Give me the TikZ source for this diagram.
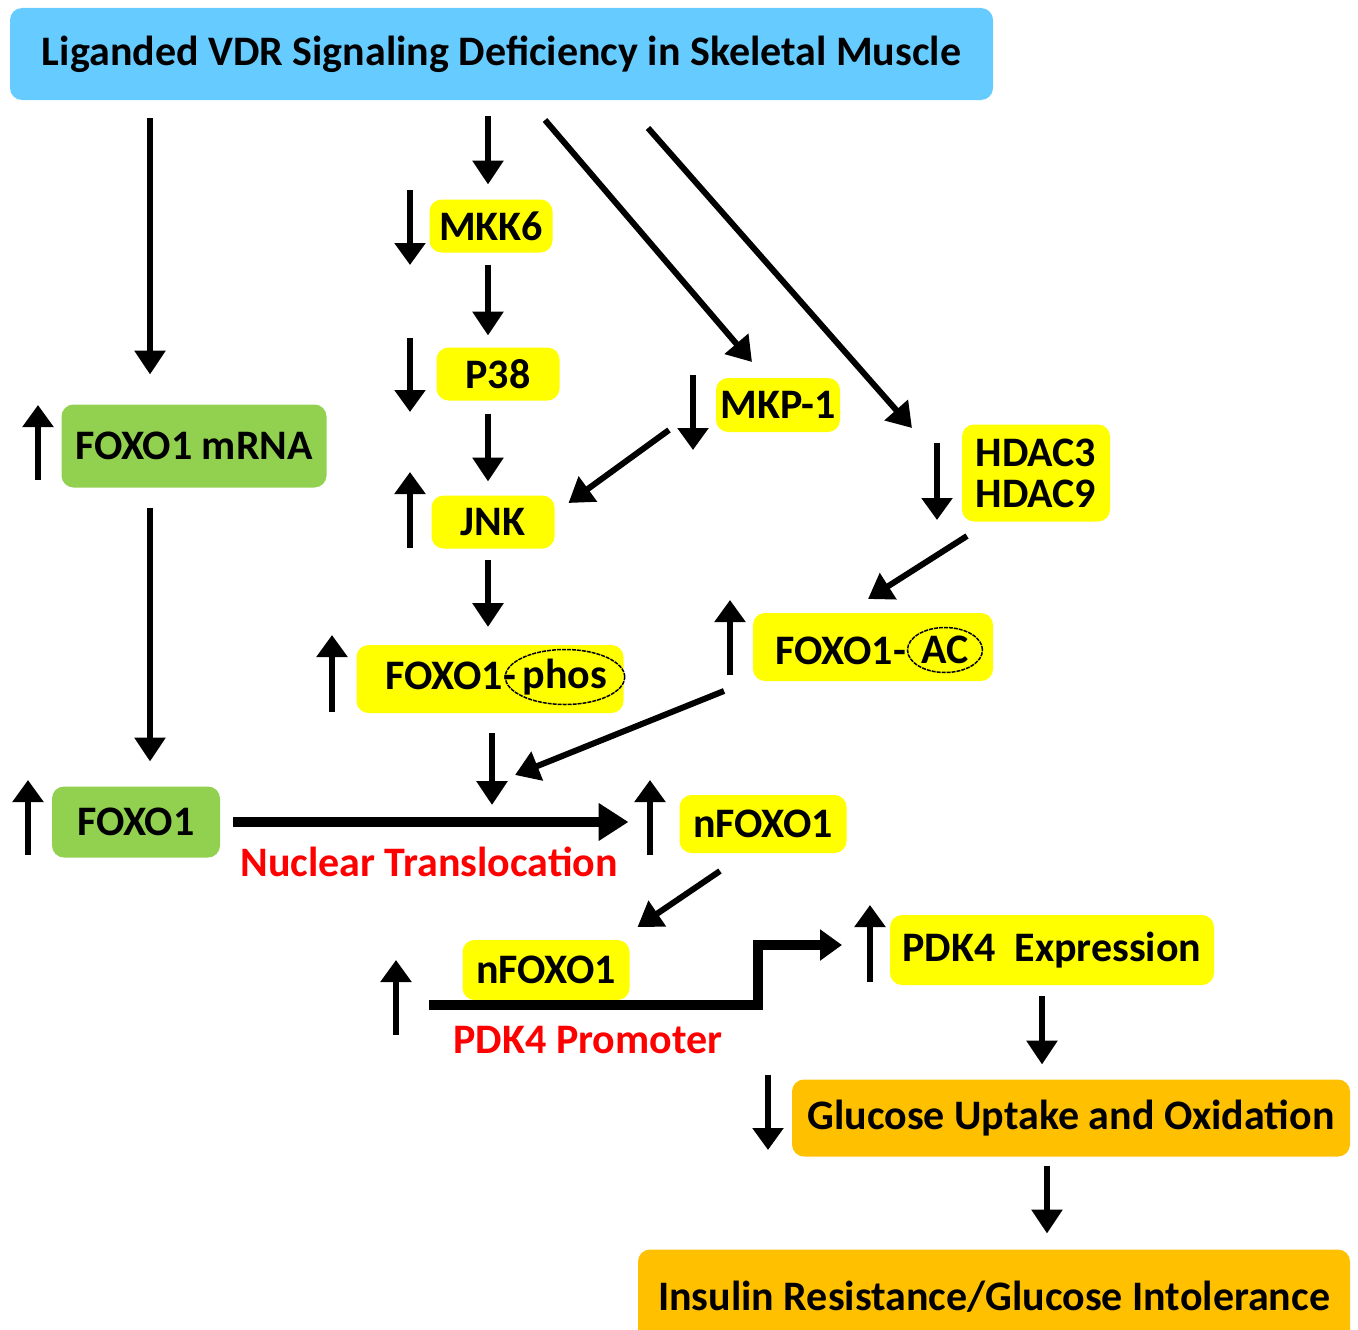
\documentclass[tikz,border=0pt]{standalone}
\usepackage{fontspec}
\setmainfont{Carlito}
\usetikzlibrary{arrows.meta,shapes.geometric}

\definecolor{vdrblue}{HTML}{66CCFF}
\definecolor{vdryellow}{HTML}{FFFF00}
\definecolor{vdrgreen}{HTML}{92D050}
\definecolor{vdrorange}{HTML}{FFC000}
\definecolor{vdrred}{HTML}{FF0000}

\begin{document}
\begin{tikzpicture}[x=1pt,y=-1pt,line width=6pt,>={Triangle[length=24pt,width=30pt]},
  lbl/.style={font=\bfseries\fontsize{42}{41}\selectfont},
  box/.style={lbl,rounded corners=12pt,inner sep=0pt,align=center},
  ybox/.style={box,fill=vdryellow},
  gbox/.style={box,fill=vdrgreen},
  obox/.style={box,fill=vdrorange},
  tbox/.style={box,fill=vdrblue},
  note/.style={lbl,text=vdrred,inner sep=0pt},
  tag/.style={draw,ellipse,line width=1.5pt,dash pattern=on 4pt off 1pt,inner sep=0pt,lbl},
  arr/.style={->},
  ind/.style={->,>={Triangle[length=22pt,width=30pt]}},
  bigarr/.style={->,line width=10pt,>={Triangle[length=30pt,width=36pt]}}]
  \useasboundingbox (0,0) rectangle (1358,1330);
  \clip (0,0) rectangle (1358,1330);

  % boxes
  \node[tbox,minimum width=983pt,minimum height=92pt] (title) at (501.5,54) {Liganded VDR Signaling Deficiency in Skeletal Muscle};
  \node[ybox,minimum width=123pt,minimum height=53pt] (mkk6) at (491,226) {MKK6};
  \node[ybox,minimum width=123pt,minimum height=53pt] (p38) at (498,374) {P38};
  \node[ybox,minimum width=123pt,minimum height=53pt] (jnk) at (493,522) {JNK};
  \node[ybox,minimum width=124pt,minimum height=54pt] (mkp) at (778,405) {MKP-1};
  \node[ybox,minimum width=148pt,minimum height=97pt,align=left] (hdac) at (1036,473) {HDAC3\\HDAC9};
  \node[ybox,minimum width=240pt,minimum height=68pt] (ac) at (873,647) {};
  \node[lbl,anchor=east,inner sep=0pt] (aclbl) at (909,651) {FOXO1-};
  \node[tag,minimum width=75pt,minimum height=45pt] (actag) at (945,650) {AC};
  \node[ybox,minimum width=267pt,minimum height=68pt] (phos) at (490,679) {};
  \node[lbl,anchor=east,inner sep=0pt] (phoslbl) at (519,676) {FOXO1-};
  \node[tag,minimum width=96pt,minimum height=55pt] (phostag) at (565,677) {phos};
  \node[gbox,minimum width=265pt,minimum height=83pt] (mrna) at (194,446) {FOXO1 mRNA};
  \node[gbox,minimum width=168pt,minimum height=71pt] (foxo) at (136,822) {FOXO1};
  \node[ybox,minimum width=167pt,minimum height=58pt] (nf1) at (763,824) {nFOXO1};
  \node[ybox,minimum width=167pt,minimum height=60pt] (nf2) at (546,970) {nFOXO1};
  \node[ybox,minimum width=324pt,minimum height=70pt] (pdk) at (1052,950) {PDK4\hspace{0.45em}Expression};
  \node[obox,minimum width=558pt,minimum height=77pt] (glu) at (1071,1118) {Glucose Uptake and Oxidation};
  \node[obox,minimum width=712pt,minimum height=95pt] (ins) at (994,1297) {Insulin Resistance/Glucose Intolerance};
  \node[note] (transl) at (429,862) {Nuclear Translocation};
  \node[note] (prom) at (588,1040) {PDK4 Promoter};

  \coordinate (colA) at (150,0);
  \coordinate (colB) at (488,0);
  \coordinate (colC) at (1042,0);
  \coordinate (colD) at (1047,0);
  \coordinate (junc) at (492,805);

  % vertical chain
  \draw[arr,shorten <=15pt,shorten >=27pt] (title.south -| colA) -- (mrna.north -| colA);
  \draw[arr,shorten <=17pt,shorten >=22pt] (mrna.south -| colA) -- (foxo.north -| colA);
  \draw[arr,shorten <=13pt,shorten >=12pt] (title.south -| colB) -- (mkk6.north -| colB);
  \draw[arr,shorten <=9pt,shorten >=9pt] (mkk6.south -| colB) -- (p38.north -| colB);
  \draw[arr,shorten <=10pt,shorten >=11pt] (p38.south -| colB) -- (jnk.north -| colB);
  \draw[arr,shorten <=8pt,shorten >=15pt] (jnk.south -| colB) -- (phos.north -| colB);
  \draw[arr,shorten <=17pt] (phos.south -| junc) -- (junc);
  \draw[arr,shorten <=8pt,shorten >=12pt] (pdk.south -| colC) -- (glu.north -| colC);
  \draw[arr,shorten <=6pt,shorten >=13pt] (glu.south -| colD) -- (ins.north -| colD);

  % diagonals
  \draw[arr] ([shift={(43.5,17)}]title.south) -- ([shift={(-26,-13)}]mkp.north);
  \draw[arr] ([shift={(146.5,25)}]title.south) -- ([shift={(-47,-45)}]hdac.west);
  \draw[arr] ([shift={(-44,25)}]mkp.west) -- ([shift={(11,-19)}]jnk.east);
  \draw[arr] ([shift={(8,11.5)}]hdac.south west) -- ([shift={(-5,-11)}]ac.north);
  \draw[arr] ([shift={(-26,7)}]ac.south west) -- ([shift={(23,-30)}]junc);
  \draw[arr] ([shift={(-43,15)}]nf1.south) -- ([shift={(5,-10)}]nf2.north east);

  % translocation and promoter
  \draw[bigarr,shorten <=10pt,shorten >=48pt] (foxo.east) -- (foxo.east -| nf1.west);
  \draw[line width=10pt,->,>={Triangle[length=22pt,width=30pt]}] ([shift={(-30.5,2)}]nf2.south west) -- ([shift={(125.5,2)}]nf2.south east) |- ([shift={(-45,-5)}]pdk.west);

  % up / down markers
  \foreach \x/\a/\b in {410/190/265,410/338/412,693/375/450,937/443/520,768/1075/1150,
      410/548/472,730/675/600,332/712/635,38/480/405,28/855/780,650/855/780,396/1035/960,870/982/905}
    \draw[ind] (\x,\a) -- (\x,\b);
\end{tikzpicture}
\end{document}
